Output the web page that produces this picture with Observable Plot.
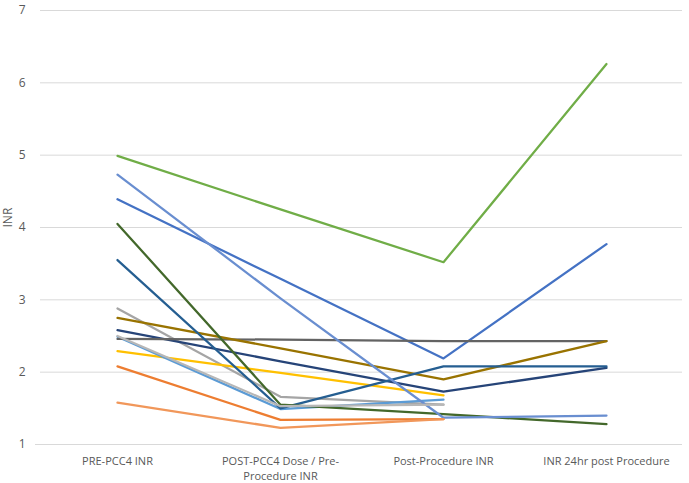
<!DOCTYPE html>
<html><head><meta charset="utf-8">
<script src="https://cdn.jsdelivr.net/npm/d3@7"></script>
<script src="https://cdn.jsdelivr.net/npm/@observablehq/plot@0.6"></script>
<style>body{margin:0;background:#fff}</style>
</head><body><div id="chart"></div>
<script>
const categories = ["PRE-PCC4 INR", "POST-PCC4 Dose / Pre-Procedure INR", "Post-Procedure INR", "INR 24hr post Procedure"];
const tickLabels = ["PRE-PCC4 INR", "POST-PCC4 Dose / Pre-\nProcedure INR", "Post-Procedure INR", "INR 24hr post Procedure"];
const yTicks = [1, 2, 3, 4, 5, 6, 7];

// Patients (series), in drawing order
const seriesNames = ["P1","P2","P3","P4","P5","P6","P7","P9","P10","P11","P12","P13","P14","P15"];
const seriesColors = ["#4472C4","#ED7D31","#A5A5A5","#FFC000","#5B9BD5","#70AD47","#264478","#636363","#997300","#255E91","#43682B","#698ED0","#F1975A","#B7B7B7"];
const P1  = [4.39, 3.29, 2.19, 3.77];
const P2  = [2.08, 1.34, 1.35, null];
const P3  = [2.88, 1.66, 1.55, null];
const P4  = [2.29, 1.99, 1.68, null];
const P5  = [2.49, 1.49, 1.62, null];
const P6  = [4.99, 4.25, 3.52, 6.26];
const P7  = [2.58, 2.15, 1.73, 2.06];
const P9  = [2.46, 2.45, 2.43, 2.43];
const P10 = [2.75, 2.33, 1.90, 2.43];
const P11 = [3.55, 1.50, 2.08, 2.08];
const P12 = [4.05, 1.55, 1.42, 1.28];
const P13 = [4.73, 3.02, 1.37, 1.40];
const P14 = [1.58, 1.23, 1.35, null];
const P15 = [2.50, 1.53, 1.55, null];
const seriesValues = [P1,P2,P3,P4,P5,P6,P7,P9,P10,P11,P12,P13,P14,P15];

const rows = [];
seriesValues.forEach((vals, s) => vals.forEach((v, i) => {
  if (v != null) rows.push({cat: categories[i], value: v, name: seriesNames[s]});
}));

const chart = Plot.plot({
  width: 689, height: 483,
  marginLeft: 34, marginRight: 1, marginTop: 10, marginBottom: 39,
  style: {fontFamily: "'Open Sans', sans-serif", fontSize: "11px", color: "#595959", background: "#fff", overflow: "visible"},
  x: {type: "point", domain: categories, padding: 0.5, label: null},
  y: {domain: [1, 7], label: null},
  color: {domain: seriesNames, range: seriesColors},
  marks: [
    Plot.ruleY(yTicks.filter(t => t > 1), {stroke: "#D9D9D9", strokeWidth: 1, insetLeft: 6, insetRight: 6}),
    Plot.ruleY([1], {stroke: "#D9D9D9", strokeWidth: 1, insetLeft: 1, insetRight: 6}),
    Plot.axisY({ticks: yTicks, tickSize: 0, tickPadding: 9, fontSize: 12, tickFormat: d => String(d), label: null}),
    Plot.axisX({tickSize: 0, tickPadding: 10, tickFormat: (d) => tickLabels[categories.indexOf(d)], lineHeight: 1.38, label: null}),
    Plot.text(["INR"], {frameAnchor: "left", dx: -26, rotate: -90, fontSize: 12, fill: "#595959"}),
    Plot.line(rows, {x: "cat", y: "value", z: "name", stroke: "name", strokeWidth: 2.25, curve: "linear"})
  ]
});
document.getElementById("chart").appendChild(chart);
</script>
</body></html>
